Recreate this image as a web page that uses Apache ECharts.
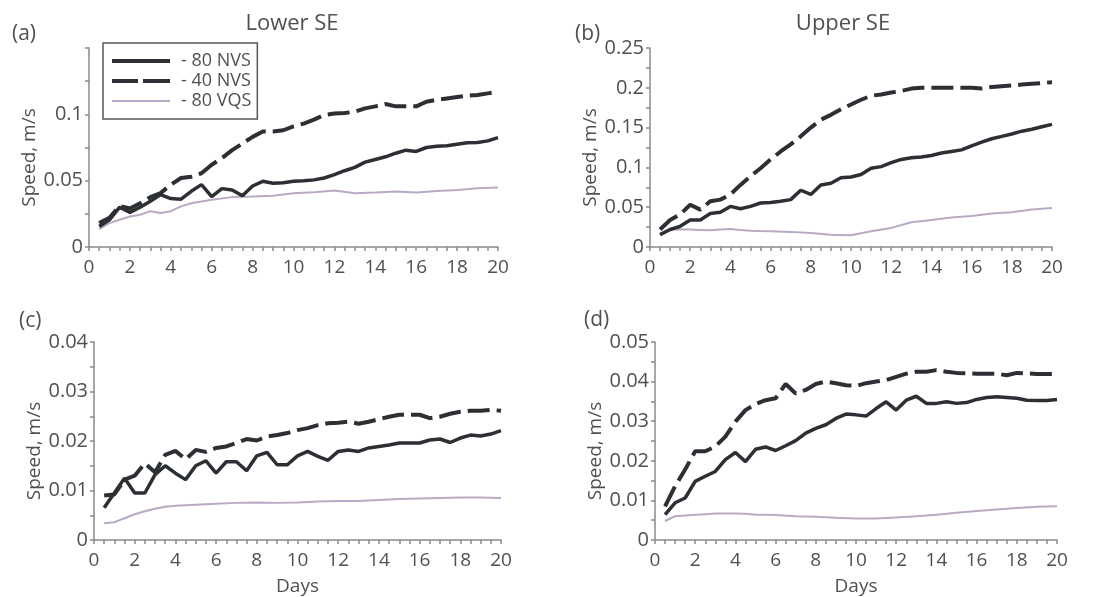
<!DOCTYPE html>
<html>
<head>
<meta charset="utf-8">
<script src="https://cdn.jsdelivr.net/npm/echarts@6/dist/echarts.min.js"></script>
<style>
  html, body { margin: 0; padding: 0; background: #fff; }
  #chart { width: 1109px; height: 597px; }
</style>
</head>
<body>
<div id="chart"></div>
<script>
// Time axis (days) shared by the NVS runs
const days = [0.5, 1, 1.5, 2, 2.5, 3, 3.5, 4, 4.5, 5, 5.5, 6, 6.5, 7, 7.5, 8, 8.5, 9, 9.5, 10,
              10.5, 11, 11.5, 12, 12.5, 13, 13.5, 14, 14.5, 15, 15.5, 16, 16.5, 17, 17.5, 18, 18.5, 19, 19.5, 20];
// Days sampled for the VQS runs
const vqsDays = [0.5, 1, 1.5, 2, 2.5, 3, 3.5, 4, 4.5, 5, 5.5, 6, 7, 8, 9, 10, 11, 12, 13, 14, 15, 16, 17, 18, 19, 20];

const seriesNames = ['80 NVS', '40 NVS', '80 VQS'];
const xTicks = [0, 2, 4, 6, 8, 10, 12, 14, 16, 18, 20];

// (a) Lower SE, upper panel
const lowerA_80nvs = [0.0155, 0.0205, 0.0300, 0.0260, 0.0300, 0.0345, 0.0395, 0.0365, 0.0360, 0.0420, 0.0470, 0.0380,
  0.0440, 0.0430, 0.0386, 0.0460, 0.0495, 0.0480, 0.0485, 0.0495, 0.0500, 0.0506, 0.0520, 0.0545, 0.0575, 0.0600,
  0.0640, 0.0660, 0.0680, 0.0707, 0.0730, 0.0720, 0.0750, 0.0760, 0.0764, 0.0775, 0.0785, 0.0787, 0.0800, 0.0825];
const lowerA_40nvs = [0.0180, 0.0220, 0.0310, 0.0290, 0.0330, 0.0376, 0.0406, 0.0470, 0.0520, 0.0530, 0.0556, 0.0620,
  0.0670, 0.0730, 0.0780, 0.0830, 0.0870, 0.0870, 0.0880, 0.0910, 0.0930, 0.0960, 0.0995, 0.1007, 0.1010, 0.1020,
  0.1045, 0.1060, 0.1078, 0.1060, 0.1060, 0.1060, 0.1095, 0.1110, 0.1120, 0.1130, 0.1140, 0.1145, 0.1158, 0.1170];
const lowerA_80vqs = [0.0135, 0.0180, 0.0205, 0.0230, 0.0243, 0.0270, 0.0256, 0.0270, 0.0306, 0.0330, 0.0343, 0.0356,
  0.0376, 0.0380, 0.0386, 0.0406, 0.0413, 0.0426, 0.0406, 0.0410, 0.0418, 0.0410, 0.0423, 0.0430, 0.0443, 0.0449];

// (b) Upper SE, upper panel
const upperB_80nvs = [0.0155, 0.0220, 0.0260, 0.0340, 0.0340, 0.0420, 0.0436, 0.0510, 0.0480, 0.0510, 0.0553, 0.0560,
  0.0574, 0.0595, 0.0713, 0.0660, 0.0780, 0.0800, 0.0870, 0.0880, 0.0910, 0.0990, 0.1010, 0.1060, 0.1100, 0.1120,
  0.1130, 0.1150, 0.1180, 0.1200, 0.1220, 0.1270, 0.1317, 0.1360, 0.1390, 0.1420, 0.1455, 0.1480, 0.1510, 0.1540];
const upperB_40nvs = [0.0220, 0.0340, 0.0410, 0.0530, 0.0470, 0.0574, 0.0595, 0.0660, 0.0780, 0.0890, 0.0990, 0.1100,
  0.1200, 0.1290, 0.1390, 0.1500, 0.1600, 0.1660, 0.1730, 0.1790, 0.1850, 0.1900, 0.1916, 0.1940, 0.1960, 0.1990,
  0.2000, 0.2000, 0.2000, 0.2000, 0.2000, 0.2000, 0.1990, 0.2010, 0.2020, 0.2030, 0.2040, 0.2050, 0.2060, 0.2070];
const upperB_80vqs = [0.0155, 0.0220, 0.0222, 0.0220, 0.0215, 0.0210, 0.0220, 0.0226, 0.0215, 0.0205, 0.0200, 0.0197,
  0.0190, 0.0176, 0.0155, 0.0147, 0.0197, 0.0240, 0.0310, 0.0340, 0.0370, 0.0390, 0.0420, 0.0436, 0.0470, 0.0490];

// (c) Lower SE, lower panel
const lowerC_80nvs = [0.0065, 0.0095, 0.0125, 0.0095, 0.0095, 0.0132, 0.0150, 0.0135, 0.0122, 0.0150, 0.0160, 0.0135,
  0.0158, 0.0158, 0.0140, 0.0170, 0.0177, 0.0152, 0.0152, 0.0170, 0.0179, 0.0169, 0.0161, 0.0179, 0.0182, 0.0179,
  0.0186, 0.0189, 0.0192, 0.0196, 0.0196, 0.0196, 0.0202, 0.0204, 0.0197, 0.0206, 0.0212, 0.0210, 0.0214, 0.0221];
const lowerC_40nvs = [0.0090, 0.0092, 0.0122, 0.0130, 0.0155, 0.0137, 0.0172, 0.0180, 0.0163, 0.0182, 0.0178, 0.0186,
  0.0189, 0.0196, 0.0204, 0.0201, 0.0209, 0.0212, 0.0216, 0.0222, 0.0226, 0.0232, 0.0236, 0.0237, 0.0239, 0.0235,
  0.0239, 0.0244, 0.0249, 0.0253, 0.0253, 0.0253, 0.0246, 0.0249, 0.0255, 0.0259, 0.0261, 0.0261, 0.0263, 0.0261];
const lowerC_80vqs = [0.0034, 0.0036, 0.0044, 0.0052, 0.0058, 0.0063, 0.0067, 0.0069, 0.0070, 0.0071, 0.0072, 0.0073,
  0.0075, 0.0076, 0.0075, 0.0076, 0.0078, 0.0079, 0.0079, 0.0081, 0.0083, 0.0084, 0.0085, 0.0086, 0.0086, 0.0085];

// (d) Upper SE, lower panel
const upperD_80nvs = [0.0064, 0.0094, 0.0106, 0.0148, 0.0161, 0.0173, 0.0203, 0.0221, 0.0198, 0.0229, 0.0235, 0.0226,
  0.0238, 0.0251, 0.0270, 0.0282, 0.0291, 0.0307, 0.0318, 0.0316, 0.0313, 0.0332, 0.0349, 0.0328, 0.0353, 0.0363,
  0.0345, 0.0345, 0.0349, 0.0345, 0.0347, 0.0355, 0.0360, 0.0362, 0.0360, 0.0358, 0.0353, 0.0352, 0.0352, 0.0355];
const upperD_40nvs = [0.0085, 0.0136, 0.0178, 0.0224, 0.0224, 0.0236, 0.0261, 0.0299, 0.0328, 0.0343, 0.0353, 0.0358,
  0.0394, 0.0370, 0.0379, 0.0394, 0.0400, 0.0396, 0.0391, 0.0389, 0.0396, 0.0400, 0.0404, 0.0412, 0.0420, 0.0425,
  0.0425, 0.0429, 0.0425, 0.0422, 0.0421, 0.0420, 0.0420, 0.0420, 0.0416, 0.0422, 0.0421, 0.0419, 0.0419, 0.0419];
const upperD_80vqs = [0.0048, 0.0060, 0.0062, 0.0064, 0.0065, 0.0067, 0.0067, 0.0067, 0.0066, 0.0064, 0.0064, 0.0063,
  0.0060, 0.0059, 0.0056, 0.0054, 0.0054, 0.0057, 0.0060, 0.0064, 0.0069, 0.0073, 0.0077, 0.0081, 0.0084, 0.0085];

const FONT = '"Open Sans", "Noto Sans", sans-serif';
const TEXT = '#505050';
const AXIS = '#8a8a8a';
const DARK = '#2c2f33';
const LIGHT = '#b9a9c4';

const zip = (xs, ys) => xs.map((x, i) => [x, ys[i]]);

// Plot-area placement for the four panels
const grids = [
  { left: 89,  top: 48,  width: 409, height: 199 },
  { left: 650, top: 48,  width: 402, height: 199 },
  { left: 94,  top: 342, width: 407, height: 199 },
  { left: 655, top: 342, width: 402, height: 199 }
];

const yRanges = [
  { max: 0.15, interval: 0.05, showMax: false },
  { max: 0.25, interval: 0.05, showMax: true },
  { max: 0.04, interval: 0.01, showMax: true },
  { max: 0.05, interval: 0.01, showMax: true }
];

const panelData = [
  [lowerA_80nvs, lowerA_40nvs, lowerA_80vqs],
  [upperB_80nvs, upperB_40nvs, upperB_80vqs],
  [lowerC_80nvs, lowerC_40nvs, lowerC_80vqs],
  [upperD_80nvs, upperD_40nvs, upperD_80vqs]
];

const xAxes = grids.map((g, i) => ({
  type: 'value', gridIndex: i, min: xTicks[0], max: xTicks[xTicks.length - 1], interval: 2,
  name: i >= 2 ? 'Days' : '', nameLocation: 'middle', nameGap: 37,
  nameTextStyle: { fontFamily: FONT, fontSize: 19, color: TEXT },
  axisLine: { show: true, onZero: false, lineStyle: { color: AXIS, width: 1.5 } },
  axisTick: { show: true, length: 4, lineStyle: { color: AXIS, width: 1.5 } },
  minorTick: { show: true, splitNumber: 4, length: 4, lineStyle: { color: AXIS, width: 1.5 } },
  axisLabel: { margin: 11, fontFamily: FONT, fontSize: 19, color: TEXT },
  splitLine: { show: false }
}));

const yAxes = grids.map((g, i) => ({
  type: 'value', gridIndex: i, min: 0, max: yRanges[i].max, interval: yRanges[i].interval,
  name: 'Speed, m/s', nameLocation: 'middle', nameGap: 50, nameRotate: 90,
  // trailing padding lifts the rotated title slightly above the axis midpoint
  nameTextStyle: { fontFamily: FONT, fontSize: 19, color: TEXT, padding: [0, 20, 0, 0] },
  axisLine: { show: true, lineStyle: { color: AXIS, width: 1.5 } },
  axisTick: { show: true, length: 4, lineStyle: { color: AXIS, width: 1.5 } },
  minorTick: { show: true, splitNumber: 2, length: 4, lineStyle: { color: AXIS, width: 1.5 } },
  axisLabel: {
    margin: 6, fontFamily: FONT, fontSize: 20, color: TEXT,
    showMaxLabel: yRanges[i].showMax,
    formatter: v => String(parseFloat(v.toFixed(4)))
  },
  splitLine: { show: false }
}));

const styles = [
  { color: DARK, width: 3.5, type: 'solid' },
  { color: DARK, width: 4, type: [22, 7] },
  { color: LIGHT, width: 2, type: 'solid' }
];

// Legend keys drawn as filled strokes: solid bar, two dashes, thin bar
const legendIcons = [
  'path://M0,0H58V4H0Z',
  'path://M0,0H26V4H0Z M31,0H58V4H31Z',
  'path://M0,1.1H58V2.9H0Z M0,0H0.02V0.02H0Z M57.98,3.98H58V4H57.98Z'
];

const series = [];
panelData.forEach((vals, p) => {
  vals.forEach((v, k) => {
    series.push({
      name: seriesNames[k], type: 'line', xAxisIndex: p, yAxisIndex: p,
      data: zip(k === 2 ? vqsDays : days, v),
      showSymbol: false, symbol: 'none', smooth: false, z: 3 - k,
      lineStyle: { color: styles[k].color, width: styles[k].width, type: styles[k].type },
      itemStyle: { color: styles[k].color },
      emphasis: { disabled: true }
    });
  });
});

const titleStyle = { fontFamily: FONT, fontSize: 22, fontWeight: 'normal', color: TEXT };
const labelStyle = { fontFamily: FONT, fontSize: 21, fontWeight: 'normal', color: TEXT };

const chart = echarts.init(document.getElementById('chart'), null, { renderer: 'canvas' });
chart.setOption({
  backgroundColor: '#ffffff',
  animation: false,
  title: [
    { text: 'Lower SE', left: 287, top: 8, textAlign: 'center', textStyle: titleStyle },
    { text: 'Upper SE', left: 838, top: 8, textAlign: 'center', textStyle: titleStyle },
    { text: '(a)', left: 7, top: 19, textStyle: labelStyle },
    { text: '(b)', left: 570, top: 19, textStyle: labelStyle },
    { text: '(c)', left: 14, top: 306, textStyle: labelStyle },
    { text: '(d)', left: 579, top: 305, textStyle: labelStyle }
  ],
  legend: {
    data: seriesNames.map((n, k) => ({ name: n, icon: legendIcons[k] })),
    orient: 'vertical', left: 103, top: 43,
    padding: [8, 6, 8, 9], itemGap: 0, itemWidth: 58, itemHeight: 4,
    borderColor: '#555', borderWidth: 1.5, borderRadius: 0,
    selectedMode: false,
    formatter: n => '- ' + n,
    textStyle: { fontFamily: FONT, fontSize: 18, color: TEXT, padding: [0, 0, 0, 6], lineHeight: 20 }
  },
  grid: grids.map(g => Object.assign({ containLabel: false }, g)),
  xAxis: xAxes,
  yAxis: yAxes,
  series: series
});
</script>
</body>
</html>
